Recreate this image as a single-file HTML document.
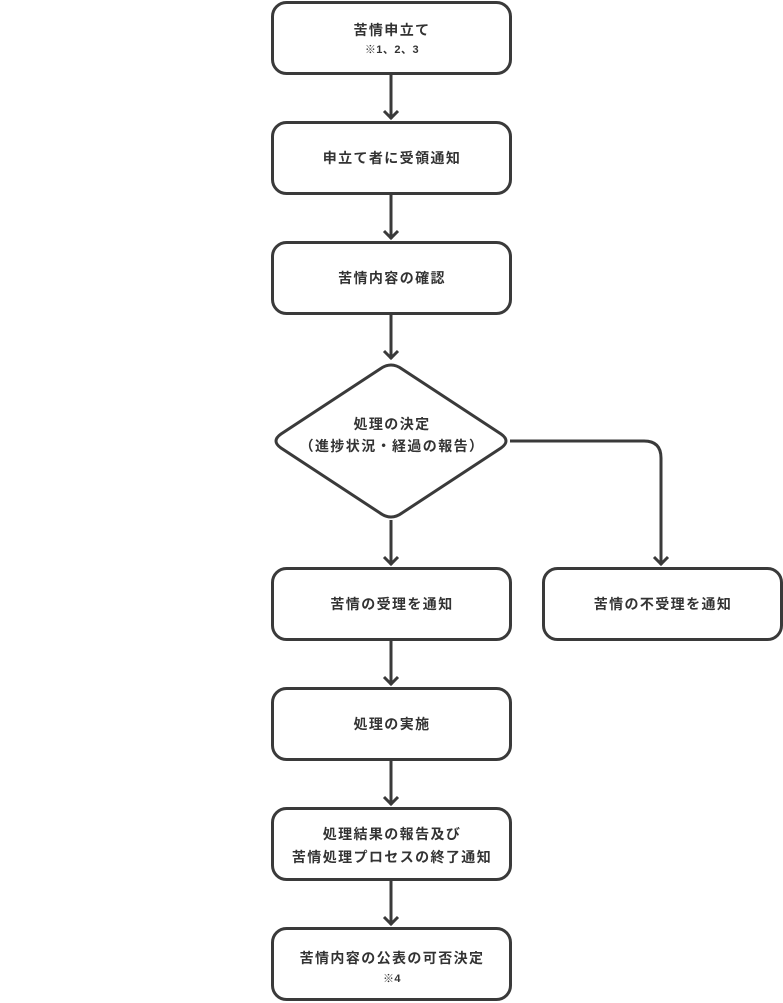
<!DOCTYPE html>
<html><head><meta charset="utf-8"><style>
html,body{margin:0;padding:0;background:#fff;}
svg{display:block;}
text{font-family:"Liberation Sans","Noto Sans CJK JP",sans-serif;font-weight:bold;fill:#333;}
</style></head><body>
<svg width="783" height="1003" viewBox="0 0 783 1003" xmlns="http://www.w3.org/2000/svg">
<g fill="#fff" stroke="#3a3a3a" stroke-width="3">
<rect x="272.5" y="2.5" width="238" height="71" rx="14"/>
<rect x="272.5" y="122.5" width="238" height="71" rx="14"/>
<rect x="272.5" y="242.5" width="238" height="71" rx="14"/>
<path d="M380,369 Q391,361 402,369 L501,434 Q511,441 501,448 L402,513 Q391,521 380,513 L281,448 Q271,441 281,434 Z"/>
<rect x="272.5" y="568.5" width="238" height="71" rx="14"/>
<rect x="543.5" y="568.5" width="238" height="71" rx="14"/>
<rect x="272.5" y="688.5" width="238" height="71" rx="14"/>
<rect x="272.5" y="808.5" width="238" height="71" rx="14"/>
<rect x="272.5" y="928.5" width="238" height="71" rx="14"/>
</g>
<g fill="none" stroke="#3a3a3a" stroke-width="3">
<path d="M391,75 V119 M384,111 L391,118 L398,111"/>
<path d="M391,195 V239 M384,231 L391,238 L398,231"/>
<path d="M391,315 V359 M384,351 L391,358 L398,351"/>
<path d="M391,520 V565 M384,557 L391,564 L398,557"/>
<path d="M391,641 V685 M384,677 L391,684 L398,677"/>
<path d="M391,761 V805 M384,797 L391,804 L398,797"/>
<path d="M391,881 V925 M384,917 L391,924 L398,917"/>
<path d="M510,441 H644 Q661,441 661,458 V565 M654,557 L661,564 L668,557"/>
</g>
<g font-size="14" text-anchor="middle" letter-spacing="1.4">
<text x="392" y="35">苦情申立て</text>
<text x="392" y="53" font-size="11" letter-spacing="0.5">※1、2、3</text>
<text x="392" y="163">申立て者に受領通知</text>
<text x="392" y="283">苦情内容の確認</text>
<text x="392" y="429">処理の決定</text>
<text x="392" y="451">（進捗状況・経過の報告）</text>
<text x="392" y="609">苦情の受理を通知</text>
<text x="663" y="609">苦情の不受理を通知</text>
<text x="392" y="729">処理の実施</text>
<text x="392" y="839">処理結果の報告及び</text>
<text x="392" y="862">苦情処理プロセスの終了通知</text>
<text x="392" y="963">苦情内容の公表の可否決定</text>
<text x="392" y="982" font-size="11" letter-spacing="0.5">※4</text>
</g>
</svg>
</body></html>
